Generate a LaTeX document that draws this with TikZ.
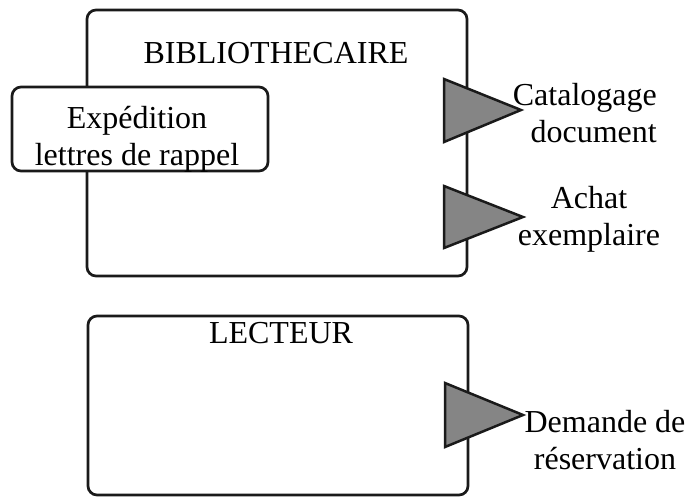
\documentclass[tikz,border=0pt]{standalone}
\usepackage{fontspec}
\setmainfont{Liberation Serif}
\usepackage{xcolor}
\usetikzlibrary{positioning}
\definecolor{portfill}{HTML}{858585}
\definecolor{inkline}{HTML}{1A1A1A}
\tikzset{
every picture/.style={line cap=round,line join=round},
actor box/.style={
  draw=inkline,
  rounded corners=9pt,
  line width=2.7pt,
  fill=white,
  inner sep=0pt
},
actor label/.style={font=\fontsize{32}{37}\selectfont, inner sep=0pt},
port label/.style={font=\fontsize{32}{37}\selectfont, inner sep=0pt, align=center},
out port/.style={draw=inkline, fill=portfill, line width=2.5pt, line join=miter}
}
\begin{document}
\begin{tikzpicture}[x=1pt,y=-1pt]
\useasboundingbox (0,0) rectangle (686,498);
% actors
\node[actor box,minimum width=380pt,minimum height=266pt] (biblio) at (277,143) {};
\node[actor label] (biblioname) at (276,53) {BIBLIOTHECAIRE};
\node[actor box,minimum width=380pt,minimum height=179pt] (lecteur) at (278,405.5) {};
\node[actor label] (lecteurname) at (281,333) {LECTEUR};
% internal task
\node[actor box,minimum width=256pt,minimum height=84pt] (rappel) at (140,129) {};
\node[port label] (rappeltext) at (137,139) {Exp\'edition\\lettres de rappel};
% output ports
\draw[out port] (444,79) -- (521,110) -- (444,142) -- cycle;
\draw[out port] (444,186) -- (523,217) -- (444,248) -- cycle;
\draw[out port] (445,383) -- (523,415) -- (445,447) -- cycle;
\node[port label,align=right,anchor=east] (catalog) at (657,113) {Catalogage\\document};
\node[port label] (achat) at (589,219) {Achat\\exemplaire};
\node[port label] (reserv) at (605,440) {Demande de\\r\'eservation};
\end{tikzpicture}
\end{document}
